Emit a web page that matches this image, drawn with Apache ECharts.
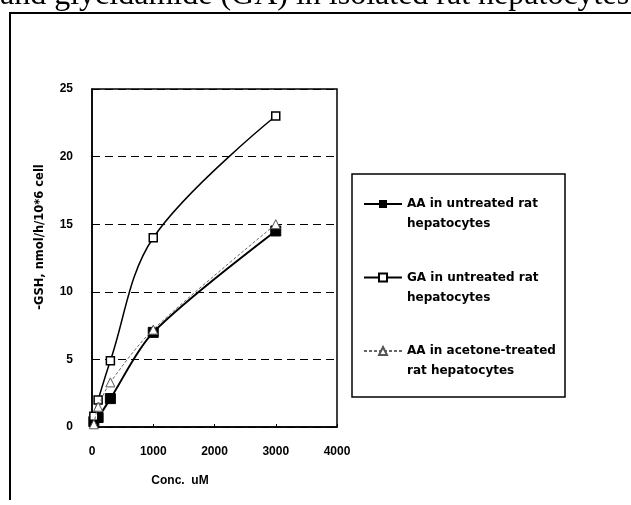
<!DOCTYPE html>
<html>
<head>
<meta charset="utf-8">
<script src="https://cdn.jsdelivr.net/npm/echarts@6/dist/echarts.min.js"></script>
<style>
  html, body { margin: 0; padding: 0; background: #fff; }
  #chart { width: 631px; height: 505px; }
</style>
</head>
<body>
<div id="chart"></div>
<script>
// Concentrations (uM) and GSH depletion rates (nmol/h/10^6 cells)
const conc = [30, 100, 300, 1000, 3000];
const aaUntreated = [0.4, 0.7, 2.1, 7.0, 14.5];
const gaUntreated = [0.8, 2.0, 4.9, 14.0, 23.0];
const aaAcetone = [0.2, 1.5, 3.3, 7.2, 15.0];

const seriesNames = [
  'AA in untreated rat\nhepatocytes',
  'GA in untreated rat\nhepatocytes',
  'AA in acetone-treated\nrat hepatocytes'
];
const xTicks = [0, 1000, 2000, 3000, 4000];
const yTicks = [0, 5, 10, 15, 20, 25];

const pairs = (xs, ys) => xs.map((x, i) => [x, ys[i]]);
const tickFont = { fontFamily: '"Liberation Sans", Arial, sans-serif', fontWeight: 'bold', fontSize: 12, color: '#000' };

const chart = echarts.init(document.getElementById('chart'), null, { renderer: 'canvas' });
chart.setOption({
  animation: false,
  backgroundColor: '#fff',
  grid: { left: 92, top: 89, right: 294, bottom: 78, show: true, borderColor: '#000', borderWidth: 1.5, backgroundColor: 'transparent' },
  xAxis: {
    type: 'value', min: xTicks[0], max: xTicks[xTicks.length - 1], interval: 1000,
    name: 'Conc.  uM', nameLocation: 'middle', nameGap: 48,
    nameTextStyle: Object.assign({}, tickFont, { padding: [0, 69, 0, 0] }),
    axisLine: { lineStyle: { color: '#000', width: 1.5 } },
    axisTick: { inside: true, length: 3, lineStyle: { color: '#000' } },
    axisLabel: Object.assign({}, tickFont, { margin: 19, formatter: v => String(v) }),
    splitLine: { show: false }
  },
  yAxis: {
    type: 'value', min: yTicks[0], max: yTicks[yTicks.length - 1], interval: 5,
    name: '-GSH, nmol/h/10*6 cell', nameLocation: 'middle', nameGap: 46,
    nameTextStyle: { fontFamily: '"DejaVu Sans", sans-serif', fontWeight: 'bold', fontSize: 11.5, color: '#000', padding: [0, 0, 0, 42] },
    axisLine: { lineStyle: { color: '#000', width: 1.5 } },
    axisTick: { show: false },
    axisLabel: Object.assign({}, tickFont, { margin: 19 }),
    splitLine: { show: true, lineStyle: { color: '#000', type: [8, 5], width: 1.2 } }
  },
  legend: {
    orient: 'vertical', left: 358, top: 169, itemWidth: 38, itemHeight: 10, itemGap: 13.5,
    // leading blank line keeps the marker level with the first text line
    formatter: name => ' \n' + name,
    textStyle: { fontFamily: '"DejaVu Sans", sans-serif', fontWeight: 'bold', fontSize: 12, color: '#000', lineHeight: 20 },
    data: seriesNames
  },
  graphic: [
    { type: 'text', left: 0, top: -20, style: { text: 'and glycidamide (GA) in isolated rat hepatocytes', font: '32px "Liberation Serif", "Times New Roman", serif', fill: '#000' } },
    { type: 'polyline', shape: { points: [[10, 500], [10, 13], [631, 13]] }, style: { stroke: '#000', lineWidth: 2, fill: null } },
    { type: 'rect', shape: { x: 352, y: 174, width: 213, height: 223 }, style: { stroke: '#000', lineWidth: 1.5, fill: null }, z: 0 }
  ],
  series: [
    {
      name: seriesNames[0], type: 'line', data: pairs(conc, aaUntreated), smooth: 0.3,
      symbol: 'rect', symbolSize: 10, itemStyle: { color: '#000', borderColor: '#000' },
      lineStyle: { color: '#000', width: 2 }, z: 3
    },
    {
      name: seriesNames[1], type: 'line', data: pairs(conc, gaUntreated), smooth: 0.35,
      symbol: 'rect', symbolSize: 8, itemStyle: { color: '#fff', borderColor: '#000', borderWidth: 1.5 },
      lineStyle: { color: '#000', width: 1.5 }, z: 4
    },
    {
      name: seriesNames[2], type: 'line', data: pairs(conc, aaAcetone), smooth: 0.3,
      symbol: 'triangle', symbolSize: 9, itemStyle: { color: '#fff', borderColor: '#555', borderWidth: 1 },
      lineStyle: { color: '#666', width: 1, type: [3, 2] }, z: 5
    }
  ]
});
</script>
</body>
</html>
